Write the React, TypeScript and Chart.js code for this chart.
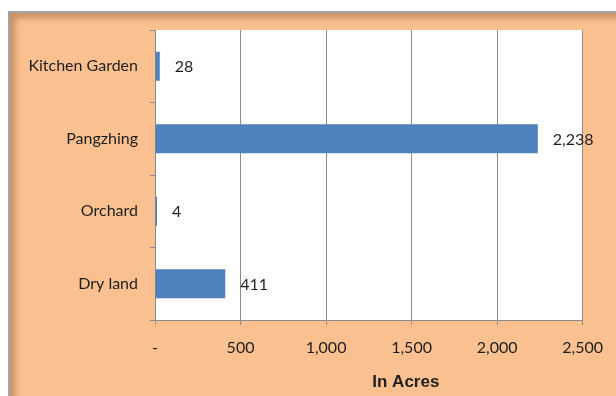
import { useEffect, useRef } from "react";
import { Chart, registerables } from "chart.js";

Chart.register(...registerables);

const categories = ["Kitchen Garden", "Pangzhing", "Orchard", "Dry land"];
const acres = [28, 2238, 4, 411];
const xTickValues = [0, 500, 1000, 1500, 2000, 2500];
const axisTitle = "In Acres";

const FONT = "Lato, 'Open Sans', sans-serif";
const TEXT = "#1e1e1e";
const GRID = "#8c8c8c";

const fmt = (v: number) => (v === 0 ? "-" : v.toLocaleString("en-US"));

export default function App() {
  const ref = useRef<HTMLCanvasElement>(null);

  useEffect(() => {
    document.body.style.margin = "0";
    document.body.style.overflow = "hidden";
    const canvas = ref.current;
    if (!canvas) return;

    const plotBg = {
      id: "plotBg",
      beforeDraw(chart: any) {
        const { ctx, chartArea } = chart;
        ctx.save();
        ctx.fillStyle = "#ffffff";
        ctx.fillRect(chartArea.left, chartArea.top, chartArea.right - chartArea.left, chartArea.bottom - chartArea.top);
        ctx.restore();
      },
    };

    const valueLabels = {
      id: "valueLabels",
      afterDatasetsDraw(chart: any) {
        const { ctx } = chart;
        const meta = chart.getDatasetMeta(0);
        ctx.save();
        ctx.font = `16px ${FONT}`;
        ctx.fillStyle = TEXT;
        ctx.textAlign = "left";
        ctx.textBaseline = "middle";
        meta.data.forEach((bar: any, i: number) => {
          ctx.fillText(acres[i].toLocaleString("en-US"), bar.x + 15, bar.y + 1);
        });
        ctx.restore();
      },
    };

    const axisTitlePlugin = {
      id: "axisTitlePlugin",
      afterDraw(chart: any) {
        const { ctx, chartArea } = chart;
        ctx.save();
        ctx.font = `bold 17px 'Liberation Sans Narrow', 'Liberation Sans', Arial, sans-serif`;
        ctx.fillStyle = TEXT;
        ctx.textAlign = "center";
        ctx.textBaseline = "middle";
        ctx.fillText(axisTitle, (chartArea.left + chartArea.right) / 2 + 37, chartArea.bottom + 62);
        ctx.restore();
      },
    };

    const chart = new Chart(canvas, {
      type: "bar",
      data: {
        labels: categories,
        datasets: [
          {
            data: acres,
            backgroundColor: "#4F81BD",
            barPercentage: 0.4,
            categoryPercentage: 1,
            minBarLength: 2,
          },
        ],
      },
      options: {
        indexAxis: "y",
        responsive: false,
        animation: false,
        layout: { padding: { left: 0, right: 33, top: 30, bottom: 0 } },
        plugins: {
          legend: { display: false },
          tooltip: { enabled: false },
        },
        scales: {
          x: {
            type: "linear",
            min: 0,
            max: 2500,
            afterBuildTicks: (s: any) => {
              s.ticks = xTickValues.map((v) => ({ value: v }));
            },
            afterFit: (s: any) => {
              s.height = 76;
            },
            ticks: {
              callback: (v: any) => fmt(Number(v)),
              font: { family: FONT, size: 16 },
              color: TEXT,
              padding: 13,
              maxRotation: 0,
            },
            grid: { color: GRID, tickLength: 5, drawTicks: true },
            border: { display: true, color: GRID },
          },
          y: {
            type: "category",
            offset: true,
            afterFit: (s: any) => {
              s.width = 155;
            },
            ticks: {
              font: { family: FONT, size: 16 },
              color: TEXT,
              padding: 12,
            },
            grid: { offset: true, drawOnChartArea: false, tickLength: 5, color: GRID },
            border: { display: true, color: GRID },
          },
        },
      },
      plugins: [plotBg, valueLabels, axisTitlePlugin],
    } as any);

    return () => chart.destroy();
  }, []);

  return (
    <div style={{ position: "relative", width: 616, height: 396, background: "#ffffff", overflow: "hidden" }}>
      <div
        style={{
          position: "absolute",
          left: 8,
          top: 11,
          width: 640,
          height: 420,
          background: "#FAC090",
          borderLeft: "2px solid #a3a3a3",
          borderTop: "2px solid #a3a3a3",
          boxShadow: "inset 5px 5px 6px rgba(130, 85, 45, 0.45)",
        }}
      />
      <canvas ref={ref} width={616} height={396} style={{ position: "absolute", left: 0, top: 0, width: 616, height: 396 }} />
    </div>
  );
}
